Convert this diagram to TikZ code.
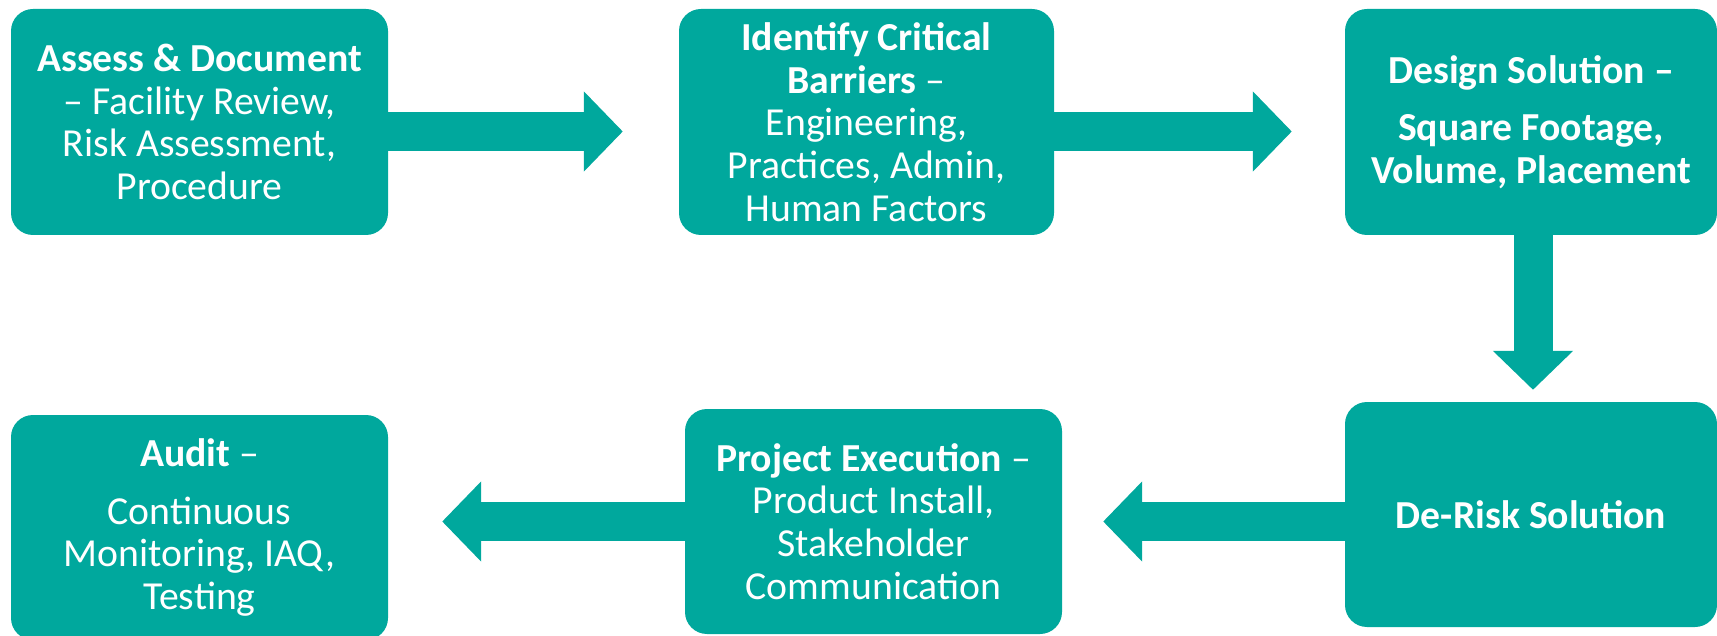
\documentclass[tikz,border=0pt]{standalone}
\usepackage{fontspec}
\setmainfont{Carlito}
\usetikzlibrary{arrows.meta}
\definecolor{teal}{RGB}{0,168,157}

\begin{document}
\begin{tikzpicture}[x=1pt,y=-1pt,
	stepbox/.style={fill=teal,text=white,rounded corners=22pt,align=center,
		minimum height=225pt,inner sep=0pt,
		font=\fontsize{39.7}{42.7}\selectfont},
	flow/.style={draw=teal,line width=39pt,-{Triangle[length=39pt,width=78pt]}}]
	\useasboundingbox (0,0) rectangle (1717,636);
	% top row
	\node[stepbox,minimum width=377pt,minimum height=226pt] (assess) at (199.5,122)
		{\textbf{Assess \& Document}\\ – Facility Review,\\ Risk Assessment,\\ Procedure};
	\node[stepbox,minimum width=375pt,minimum height=226pt] (barriers) at (866.5,122)
		{\textbf{Identify Critical}\\ \textbf{Barriers} –\\ Engineering,\\ Practices, Admin,\\ Human Factors};
	\node[stepbox,minimum width=372pt,minimum height=226pt] (design) at (1531,122)
		{\textbf{Design Solution –}\\[15pt] \textbf{Square Footage,}\\ \textbf{Volume, Placement}};
	% bottom row
	\node[stepbox,minimum width=372pt] (derisk) at (1531,514.5)
		{\textbf{De-Risk Solution}};
	\node[stepbox,minimum width=377pt] (execution) at (873.5,521.5)
		{\textbf{Project Execution} –\\ Product Install,\\ Stakeholder\\ Communication};
	\node[stepbox,minimum width=377pt] (audit) at (199.5,527.5)
		{\textbf{Audit} –\\[15pt] Continuous\\ Monitoring, IAQ,\\ Testing};
	% block arrows
	\draw[flow,shorten >=56pt] ([yshift=-9.5pt]assess.east) -- ([yshift=-9.5pt]barriers.west);
	\draw[flow,shorten >=53pt] ([yshift=-9.5pt]barriers.east) -- ([yshift=-9.5pt]design.west);
	\draw[flow,shorten >=12pt] ([xshift=2pt]design.south) -- ([xshift=2pt]derisk.north);
	\draw[flow,shorten >=41pt] (derisk.west |- execution) -- (execution.east);
	\draw[flow,shorten >=54pt] (execution.west) -- (audit.east |- execution);
\end{tikzpicture}
\end{document}
